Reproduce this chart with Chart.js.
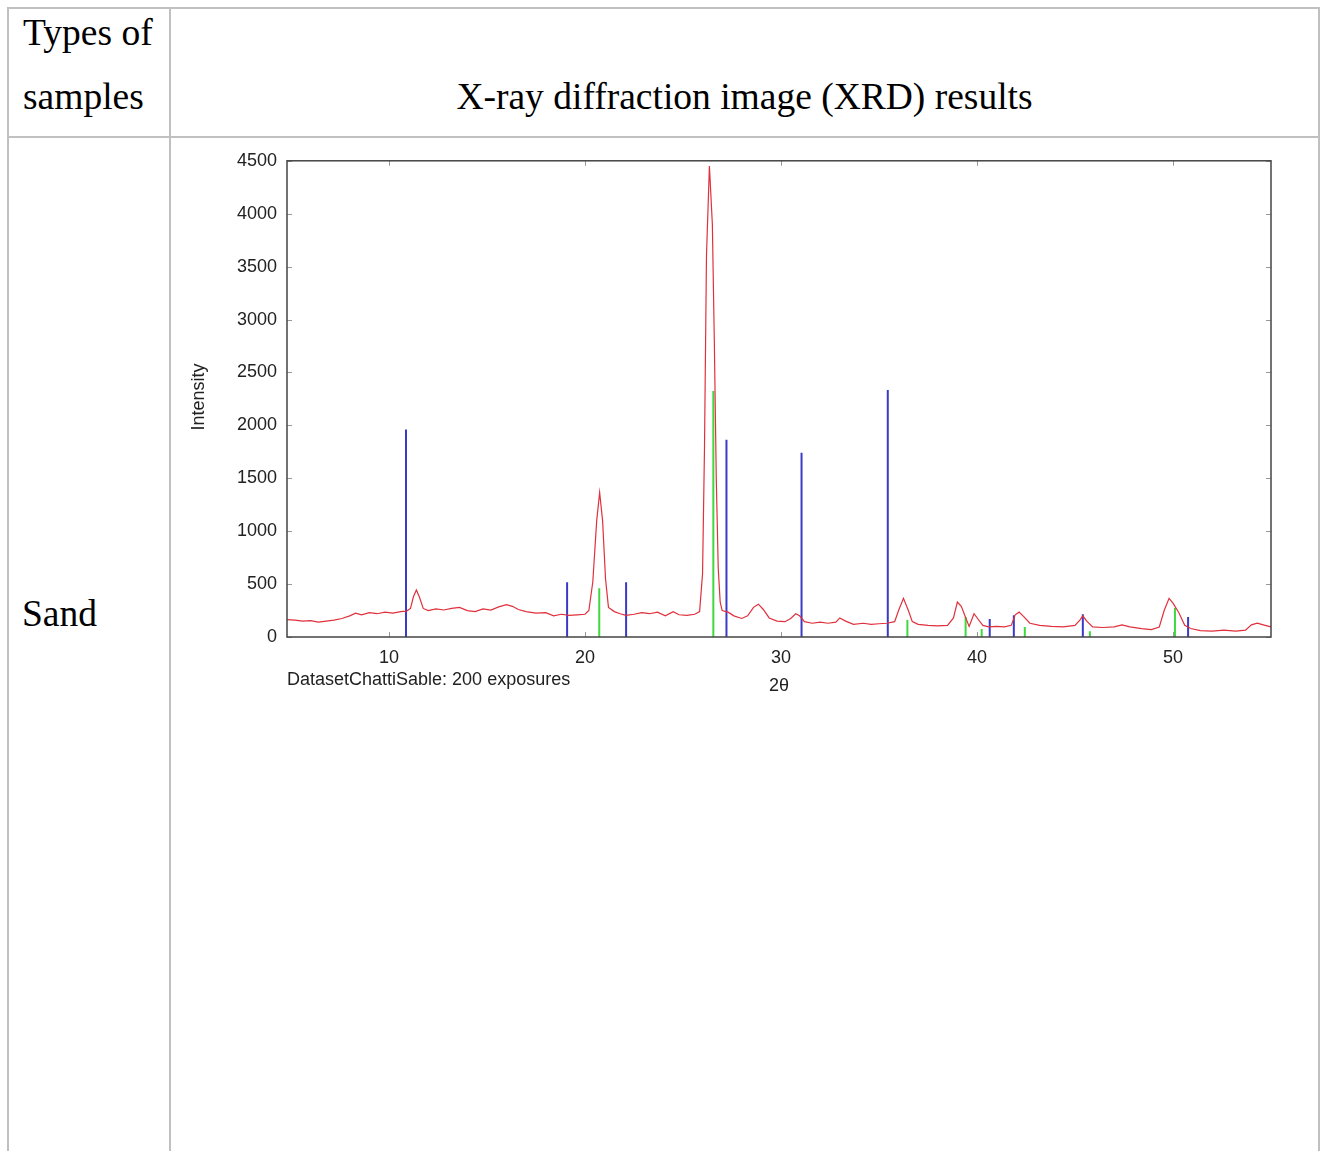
<!DOCTYPE html>
<html>
<head>
<meta charset="utf-8">
<script src="https://cdn.jsdelivr.net/npm/chart.js@4.4.1/dist/chart.umd.min.js"></script>
<style>
  html, body { margin:0; padding:0; background:#fff; }
  body { width:1325px; height:1151px; position:relative; overflow:hidden; }
  .ln { position:absolute; background:#c0c0c0; }
  .txt { position:absolute; font-family:'Liberation Serif','Times New Roman',serif; font-size:37.5px; line-height:36px; color:#000; white-space:nowrap; }
  #wrap { position:absolute; left:180px; top:140px; width:1120px; height:570px; }
</style>
</head>
<body>
<!-- table borders -->
<div class="ln" style="left:7px;top:7px;width:1313px;height:2px"></div>
<div class="ln" style="left:7px;top:136px;width:1313px;height:2px"></div>
<div class="ln" style="left:7px;top:7px;width:2px;height:1144px"></div>
<div class="ln" style="left:169px;top:7px;width:2px;height:1144px"></div>
<div class="ln" style="left:1318px;top:7px;width:2px;height:1144px"></div>

<div class="txt" style="left:23px;top:15px">Types of</div>
<div class="txt" style="left:23px;top:79px">samples</div>
<div class="txt" style="left:171px;top:79px;width:1147px;text-align:center">X-ray diffraction image (XRD) results</div>
<div class="txt" style="left:22px;top:596px">Sand</div>

<div id="wrap"><canvas id="xrd" width="1120" height="570"></canvas></div>

<script>
// measured pattern (2θ, intensity)
const scanX = [4.8,5.2,5.6,6.0,6.4,6.8,7.2,7.6,8.0,8.3,8.6,9.0,9.4,9.8,10.2,10.6,10.9,11.1,11.25,11.4,11.55,11.75,
  12.0,12.4,12.8,13.2,13.6,14.0,14.4,14.8,15.2,15.6,16.0,16.3,16.6,17.0,17.5,18.0,18.4,18.8,19.2,19.6,20.0,20.2,
  20.4,20.6,20.75,20.9,21.05,21.2,21.5,21.8,22.1,22.5,22.9,23.3,23.7,24.1,24.5,24.8,25.2,25.6,25.85,26.0,26.1,
  26.2,26.35,26.5,26.6,26.7,26.8,26.9,27.0,27.3,27.6,28.0,28.3,28.6,28.85,29.1,29.4,29.8,30.2,30.5,30.75,
  30.95,31.2,31.6,32.0,32.4,32.8,33.0,33.3,33.7,34.2,34.6,35.0,35.4,35.8,36.0,36.25,36.5,36.7,37.0,37.5,38.0,
  38.5,38.8,39.0,39.2,39.45,39.6,39.85,40.05,40.3,40.6,41.0,41.4,41.75,41.95,42.15,42.4,42.7,43.2,43.8,44.4,
  45.0,45.25,45.4,45.6,45.9,46.4,47.0,47.4,47.8,48.4,48.9,49.3,49.55,49.8,50.0,50.3,50.6,50.9,51.4,52.0,52.6,
  53.2,53.7,54.0,54.3,54.7,55.0];
const scanY = [165,160,150,155,140,150,160,175,200,225,210,230,220,235,225,240,245,270,380,445,380,270,
  250,265,255,270,280,250,240,265,255,285,305,290,260,240,225,230,200,215,205,210,215,250,
  520,1100,1365,1100,550,280,240,220,205,215,230,220,235,200,240,210,205,215,240,600,1800,
  3600,4450,3900,2800,1500,650,330,250,235,200,175,200,280,310,260,180,150,145,175,220,
  200,145,130,140,130,140,180,150,120,130,120,125,130,145,250,365,250,145,120,110,105,
  110,180,330,290,170,100,220,170,110,95,100,95,110,210,235,190,130,110,100,95,
  110,160,200,150,95,90,95,115,95,80,70,95,250,365,320,230,110,80,60,55,65,
  55,65,115,130,110,95];

// reference reflections
const blueX = [10.87,19.09,22.1,27.22,31.05,35.45,40.65,41.88,45.4,50.77];
const blueY = [1960,518,518,1865,1740,2335,170,205,215,190];
const greenX = [20.73,26.55,36.45,39.42,40.24,42.44,45.76,50.1];
const greenY = [460,2325,160,190,75,95,55,275];

const xTicks = [10,20,30,40,50];
const yTicks = [0,500,1000,1500,2000,2500,3000,3500,4000,4500];

const sticks = (xs, ys) => xs.flatMap((x, i) => [{x, y:0}, {x, y:ys[i]}, {x, y:null}]);

const frame = {
  id:'frame',
  afterDraw(chart) {
    const {ctx, chartArea:a, scales:{x, y}} = chart;
    ctx.save();
    ctx.strokeStyle = '#999'; ctx.lineWidth = 1;
    ctx.beginPath();
    xTicks.forEach(v => { const px = Math.round(x.getPixelForValue(v)) + .5;
      ctx.moveTo(px, a.bottom); ctx.lineTo(px, a.bottom - 5);
      ctx.moveTo(px, a.top); ctx.lineTo(px, a.top + 5); });
    yTicks.forEach(v => { const py = Math.round(y.getPixelForValue(v)) + .5;
      ctx.moveTo(a.left, py); ctx.lineTo(a.left + 5, py);
      ctx.moveTo(a.right, py); ctx.lineTo(a.right - 5, py); });
    ctx.stroke();
    ctx.strokeStyle = '#444'; ctx.lineWidth = 1.5;
    ctx.strokeRect(a.left, a.top, a.right - a.left, a.bottom - a.top);

    ctx.fillStyle = '#222';
    ctx.font = '18px "Liberation Sans", Arial, sans-serif';
    ctx.textBaseline = 'middle';
    ctx.textAlign = 'left';
    ctx.fillText('DatasetChattiSable: 200 exposures', a.left, 540);
    ctx.textAlign = 'center';
    ctx.fillText('2θ', 599, 546);
    ctx.translate(19, 257); ctx.rotate(-Math.PI / 2);
    ctx.fillText('Intensity', 0, 0);
    ctx.restore();
  }
};

const tickFont = {family:'"Liberation Sans", Arial, sans-serif', size:18};

new Chart(document.getElementById('xrd'), {
  type:'line',
  data:{ datasets:[
    { label:'scan', data:scanX.map((x, i) => ({x, y:scanY[i]})), borderColor:'#e0303c', borderWidth:1.2, pointRadius:0, tension:0 },
    { label:'blue', data:sticks(blueX, blueY), borderColor:'#3a3ac8', borderWidth:2, pointRadius:0, spanGaps:false },
    { label:'green', data:sticks(greenX, greenY), borderColor:'#3fd83f', borderWidth:2, pointRadius:0, spanGaps:false }
  ]},
  options:{
    responsive:false, animation:false,
    layout:{ padding:{left:0, top:19, right:29, bottom:0} },
    plugins:{ legend:{display:false}, tooltip:{enabled:false} },
    scales:{
      x:{ type:'linear', min:4.8, max:55,
        grid:{display:false, drawTicks:false}, border:{display:false},
        afterBuildTicks: s => { s.ticks = xTicks.map(v => ({value:v})); },
        afterFit: s => { s.height = 73; },
        ticks:{color:'#222', font:tickFont, padding:10, maxRotation:0, callback: v => String(v)} },
      y:{ min:0, max:4500,
        grid:{display:false, drawTicks:false}, border:{display:false},
        afterBuildTicks: s => { s.ticks = yTicks.map(v => ({value:v})); },
        afterFit: s => { s.width = 107; },
        ticks:{color:'#222', font:tickFont, padding:10, callback: v => String(v)} }
    }
  },
  plugins:[frame]
});
</script>
</body>
</html>
